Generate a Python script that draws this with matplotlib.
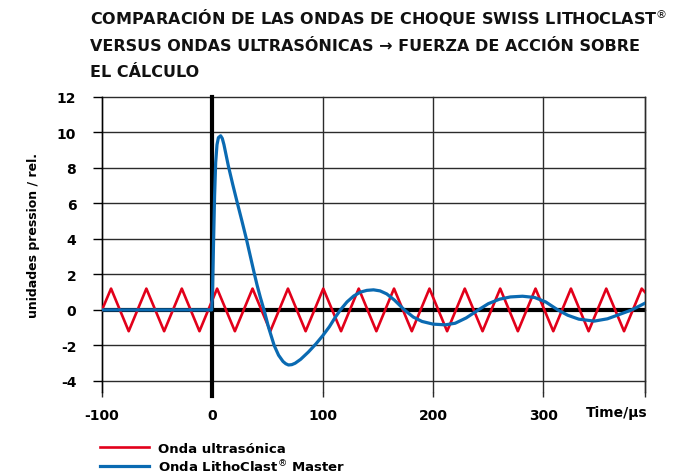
import matplotlib
matplotlib.use("Agg")
import matplotlib.pyplot as plt

# ---------------- data ----------------
title_lines = [
    r"COMPARACIÓN DE LAS ONDAS DE CHOQUE SWISS LITHOCLAST$^{\circledR}$",
    "VERSUS ONDAS ULTRASÓNICAS → FUERZA DE ACCIÓN SOBRE",
    "EL CÁLCULO",
]
y_label = "unidades pression / rel."
x_unit_label = "Time/µs"
series_names = ["Onda ultrasónica", r"Onda LithoClast$^{\circledR}$ Master"]

x_ticks = [-100, 0, 100, 200, 300]
x_tick_labels = ["-100", "0", "100", "200", "300"]
y_ticks = [-4, -2, 0, 2, 4, 6, 8, 10, 12]
y_tick_labels = ["-4", "-2", "0", "2", "4", "6", "8", "10", "12"]

# ultrasonic wave: vertices of the (triangular) wave
ultra_x = [-100.0, -91.8, -75.8, -59.8, -43.7, -27.7, -11.7, 4.3, 20.4, 36.4,
           52.5, 68.5, 84.5, 100.5, 116.6, 132.6, 148.6, 164.6, 180.7, 196.7,
           212.7, 228.7, 244.8, 260.8, 276.8, 292.8, 308.9, 324.9, 340.9, 356.9,
           373.0, 389.0, 392.0]
ultra_y = [0.0, 1.2, -1.2, 1.2, -1.2, 1.2, -1.2, 1.2, -1.2, 1.2,
           -1.2, 1.2, -1.2, 1.2, -1.2, 1.2, -1.2, 1.2, -1.2, 1.2,
           -1.2, 1.2, -1.2, 1.2, -1.2, 1.2, -1.2, 1.2, -1.2, 1.2,
           -1.2, 1.2, 1.0]

# LithoClast shock wave
litho_x = [-100.0, -0.6, 0.2, 1.0, 2.0, 3.0, 4.2, 5.5, 7.5, 9.0, 10.5, 12.5,
           14.5, 18.5, 22.7, 26.8, 30.8, 34.3, 37.8, 40.5, 43.5, 47.0, 51.0,
           56.0, 60.0, 64.0, 66.5, 69.0, 72.0, 75.0, 80.0, 87.0, 94.0, 100.0,
           106.0, 111.0, 116.0, 122.0, 128.0, 134.0, 140.0, 146.0, 152.0,
           158.0, 165.0, 174.0, 182.0, 190.0, 200.0, 211.0, 220.0, 230.0,
           241.0, 250.0, 260.0, 270.0, 281.0, 292.0, 302.0, 313.0, 322.0,
           332.0, 346.0, 358.0, 369.0, 380.0, 392.0]
litho_y = [0.0, 0.0, 1.2, 3.6, 6.4, 8.3, 9.3, 9.7, 9.8, 9.65, 9.3, 8.7,
           8.1, 7.05, 6.0, 5.0, 4.0, 3.05, 2.1, 1.4, 0.7, -0.05, -1.0,
           -2.0, -2.55, -2.9, -3.03, -3.1, -3.08, -3.0, -2.78, -2.37, -1.9, -1.45,
           -0.95, -0.45, 0.0, 0.45, 0.78, 1.0, 1.1, 1.13, 1.07,
           0.9, 0.55, 0.0, -0.4, -0.65, -0.8, -0.84, -0.75, -0.45,
           0.0, 0.35, 0.6, 0.73, 0.77, 0.7, 0.45, 0.0, -0.3,
           -0.52, -0.63, -0.5, -0.25, 0.0, 0.38]

RED = "#E2001A"
BLUE = "#0A6AB2"
GRID = "#2b2b2b"

W, H = 696, 477
fig = plt.figure(figsize=(W / 100, H / 100), dpi=100)
plt.rcParams["font.family"] = ["DejaVu Sans"]

left, right, top, bottom = 102, 645, 97.7, 393
ax = fig.add_axes([left / W, 1 - bottom / H, (right - left) / W, (bottom - top) / H])

ax.set_xlim(-100, 392)
ax.set_ylim(-4.62, 12.0)

# grid
ax.set_axisbelow(True)
ax.grid(True, color=GRID, lw=1.0, clip_on=False)

for s in ["top", "bottom"]:
    ax.spines[s].set_visible(False)
ax.spines["left"].set_color("black")
ax.spines["left"].set_linewidth(1.0)
ax.spines["right"].set_color(GRID)
ax.spines["right"].set_linewidth(1.0)

ax.set_xticks(x_ticks + [392])
ax.set_xticklabels(x_tick_labels + [""])
ax.set_yticks(y_ticks)
ax.set_yticklabels(y_tick_labels)
ax.tick_params(axis="y", direction="out", length=6.5, width=1.0, color="black", pad=12)
ax.tick_params(axis="x", direction="out", length=3.5, width=1.0, color=GRID, pad=8)
for lab in ax.get_xticklabels() + ax.get_yticklabels():
    lab.set_fontweight("bold")
    lab.set_fontsize(10)

# thick zero axes
ax.axhline(0, color="black", lw=3.0, zorder=2)
ax.axvline(0, ymin=-0.015, ymax=1.0, color="black", lw=3.0, zorder=2, clip_on=False)

# series
ax.plot(ultra_x, ultra_y, color=RED, lw=1.9, zorder=3, solid_joinstyle="round",
        label=series_names[0])
ax.plot(litho_x, litho_y, color=BLUE, lw=2.3, zorder=4, solid_joinstyle="round",
        label=series_names[1])

ax.set_ylabel(y_label, fontsize=9, fontweight="bold")
ax.yaxis.set_label_coords(-(left - 40) / (right - left), (bottom - 236) / (bottom - top))

fig.text(617 / W, 1 - 413 / H, x_unit_label, ha="center", va="center",
         fontsize=10, fontweight="bold")

# title
for i, line in enumerate(title_lines):
    fig.text(90 / W, 1 - (25 + 26 * i) / H, line, ha="left", va="baseline",
             fontsize=11.5, fontweight="bold", color="#111111")

# legend
ax.legend(loc="upper left", bbox_to_anchor=(100 / W, 1 - 443 / H),
          bbox_transform=fig.transFigure, frameon=False,
          prop={"weight": "bold", "size": 9.5}, handlelength=3.7,
          handletextpad=0.7, labelspacing=0.2, borderpad=0, borderaxespad=0)

fig.savefig("out.png", dpi=100)
